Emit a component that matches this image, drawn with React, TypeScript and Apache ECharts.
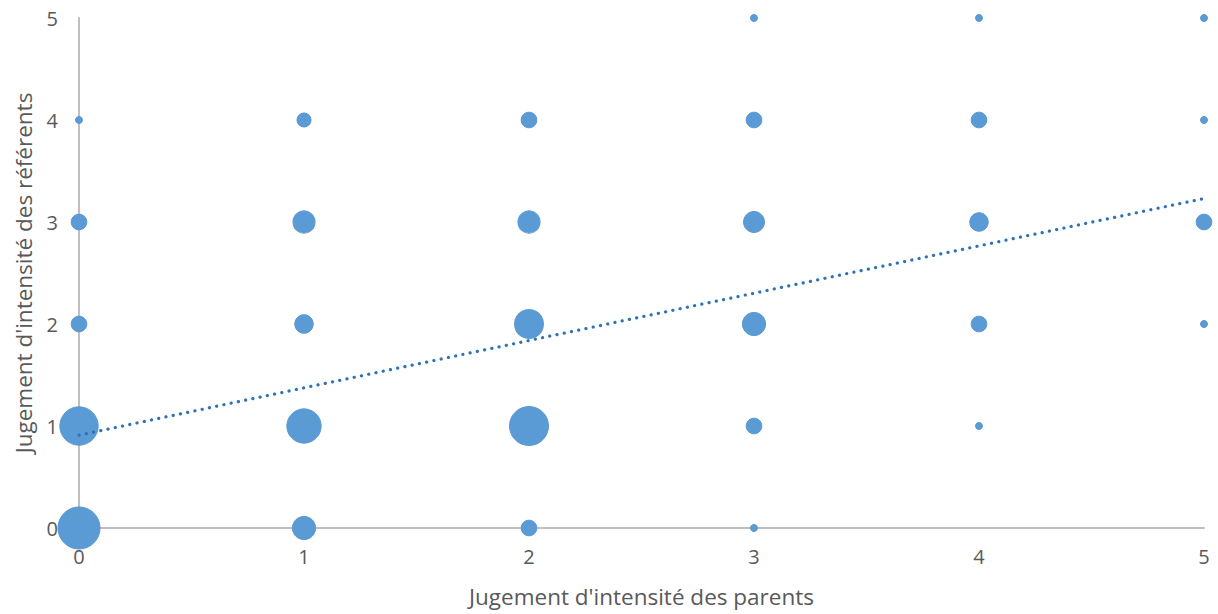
import React, { useEffect, useRef } from "react";
import * as echarts from "echarts";

// Bubble data: parent judgement (x), referent judgement (y), number of cases (bubble size)
const parentScores = [0, 0, 0, 0, 0, 1, 1, 1, 1, 1, 2, 2, 2, 2, 2, 3, 3, 3, 3, 3, 3, 4, 4, 4, 4, 4, 5, 5, 5, 5];
const referentScores = [0, 1, 2, 3, 4, 0, 1, 2, 3, 4, 0, 1, 2, 3, 4, 0, 1, 2, 3, 4, 5, 1, 2, 3, 4, 5, 2, 3, 4, 5];
const counts = [36, 30, 5, 5, 1, 11, 24, 7, 10, 4, 5, 31, 17, 10, 5, 1, 5, 11, 9, 5, 1, 1, 5, 7, 5, 1, 1, 5, 1, 1];

// Linear trend line end points
const trendX = [0, 5];
const trendY = [0.91, 3.23];

const xTicks = [0, 1, 2, 3, 4, 5];
const yTicks = [0, 1, 2, 3, 4, 5];

const FONT = "'Open Sans', Lato, sans-serif";
const TEXT = "#595959";
const AXIS = "#bfbfbf";

export default function App() {
  const ref = useRef<HTMLDivElement>(null);
  useEffect(() => {
    document.body.style.margin = "0";
    if (!ref.current) return;
    const chart = echarts.init(ref.current, undefined, { renderer: "svg" });
    const bubbles = parentScores.map((x, i) => [x, referentScores[i], counts[i]]);
    const trend = trendX.map((x, i) => [x, trendY[i]]);
    chart.setOption({
      animation: false,
      backgroundColor: "#ffffff",
      grid: { left: 79, right: 14, top: 18, bottom: 86 },
      xAxis: {
        type: "value",
        min: xTicks[0],
        max: xTicks[xTicks.length - 1],
        interval: 1,
        name: "Jugement d'intensité des parents",
        nameLocation: "middle",
        nameGap: 57,
        nameTextStyle: { color: TEXT, fontFamily: FONT, fontSize: 22.5 },
        axisLine: { show: true, onZero: false, lineStyle: { color: AXIS, width: 2 } },
        axisTick: { show: false },
        splitLine: { show: false },
        axisLabel: { color: TEXT, fontFamily: FONT, fontSize: 20, margin: 18 },
      },
      yAxis: {
        type: "value",
        min: yTicks[0],
        max: yTicks[yTicks.length - 1],
        interval: 1,
        name: "Jugement d'intensité des référents",
        nameLocation: "middle",
        nameGap: 44,
        nameTextStyle: { color: TEXT, fontFamily: FONT, fontSize: 22.5 },
        axisLine: { show: true, onZero: false, lineStyle: { color: AXIS, width: 2 } },
        axisTick: { show: false },
        splitLine: { show: false },
        axisLabel: { color: TEXT, fontFamily: FONT, fontSize: 20, margin: 21 },
      },
      series: [
        {
          type: "scatter",
          data: bubbles,
          clip: false,
          symbol: "circle",
          symbolSize: (v: number[]) => 7 * Math.sqrt(v[2]),
          itemStyle: { color: "#5b9bd5", borderColor: "#5a98d1", borderWidth: 1, opacity: 1 },
          z: 2,
        },
        {
          type: "line",
          data: trend,
          symbol: "none",
          clip: false,
          lineStyle: { color: "#2f72b8", width: 3.2, type: [0.1, 7.3], cap: "round" },
          z: 3,
        },
      ],
    });
    return () => chart.dispose();
  }, []);
  return <div ref={ref} style={{ width: 1218, height: 614 }} />;
}
